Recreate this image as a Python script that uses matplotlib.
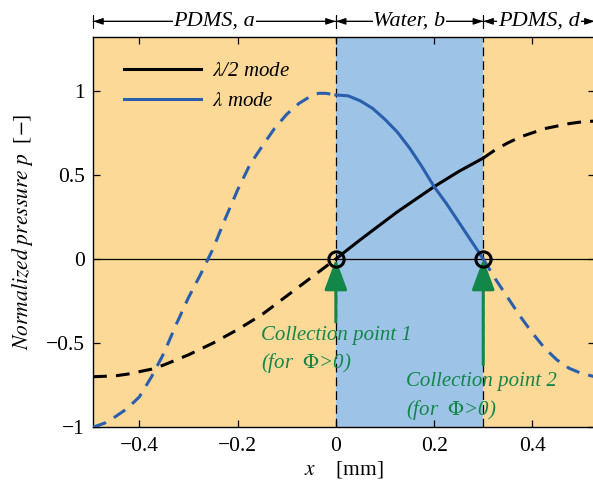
import matplotlib.pyplot as plt

plt.rcParams['font.family'] = ['Liberation Serif', 'DejaVu Serif']
plt.rcParams['mathtext.fontset'] = 'stix'

# layer boundaries [mm]
x_min, x_water, x_pdms_d, x_max = -0.494, 0.0, 0.3, 0.527

# lambda/2 mode (black)
half_a_x = [-0.494, -0.45, -0.425, -0.4, -0.375, -0.35, -0.3, -0.25, -0.2, -0.15, -0.1, -0.05, 0.0]
half_a_y = [-0.70, -0.695, -0.685, -0.67, -0.655, -0.63, -0.57, -0.50, -0.42, -0.33, -0.22, -0.11, 0.0]
half_b_x = [0.0, 0.025, 0.05, 0.075, 0.1, 0.125, 0.15, 0.175, 0.2, 0.225, 0.25, 0.275, 0.3]
half_b_y = [0.0, 0.058, 0.115, 0.17, 0.225, 0.28, 0.33, 0.38, 0.43, 0.475, 0.52, 0.56, 0.60]
half_d_x = [0.3, 0.325, 0.35, 0.375, 0.4, 0.425, 0.45, 0.475, 0.5, 0.527]
half_d_y = [0.60, 0.65, 0.69, 0.725, 0.75, 0.775, 0.79, 0.805, 0.815, 0.82]

# lambda mode (blue)
full_a_x = [-0.494, -0.47, -0.45, -0.425, -0.4, -0.375, -0.35, -0.325, -0.3, -0.275, -0.25,
            -0.225, -0.2, -0.175, -0.15, -0.125, -0.1, -0.075, -0.05, -0.035, -0.02, 0.0]
full_a_y = [-1.0, -0.975, -0.94, -0.89, -0.82, -0.70, -0.56, -0.39, -0.23, -0.09, 0.06,
            0.24, 0.41, 0.56, 0.67, 0.775, 0.86, 0.925, 0.97, 0.985, 0.985, 0.975]
full_b_x = [0.0, 0.025, 0.05, 0.075, 0.1, 0.125, 0.15, 0.175, 0.2, 0.225, 0.25, 0.275, 0.3]
full_b_y = [0.975, 0.97, 0.94, 0.895, 0.83, 0.755, 0.66, 0.55, 0.43, 0.33, 0.22, 0.11, 0.0]
full_d_x = [0.3, 0.325, 0.35, 0.375, 0.4, 0.425, 0.45, 0.475, 0.5, 0.527]
full_d_y = [0.0, -0.12, -0.23, -0.34, -0.44, -0.53, -0.60, -0.65, -0.68, -0.70]

orange = '#fdd998'
blue_bg = '#9dc3e6'
blue = '#2a5fad'
green = '#13864a'

fig = plt.figure(figsize=(5.93, 4.8), dpi=100)
ax = fig.add_axes([0.157, 0.110, 0.846, 0.813])

ax.axvspan(x_min, x_water, color=orange, lw=0, zorder=0)
ax.axvspan(x_water, x_pdms_d, color=blue_bg, lw=0, zorder=0)
ax.axvspan(x_pdms_d, x_max, color=orange, lw=0, zorder=0)

ax.axhline(0, color='black', lw=0.9, zorder=1)
for xv in (x_water, x_pdms_d):
    ax.axvline(xv, color='black', lw=0.9, ls=(0, (7, 4)), zorder=1)

lw = 2.2
dash = (0, (4.5, 3))
ax.plot(half_a_x, half_a_y, color='black', lw=lw, ls=dash, zorder=3)
ax.plot(half_b_x, half_b_y, color='black', lw=lw, zorder=3, label=r'$\lambda$/2 mode')
ax.plot(half_d_x, half_d_y, color='black', lw=lw, ls=dash, zorder=3)
ax.plot(full_a_x, full_a_y, color=blue, lw=lw, ls=dash, zorder=3)
ax.plot(full_b_x, full_b_y, color=blue, lw=lw, zorder=3, label=r'$\lambda$ mode')
ax.plot(full_d_x, full_d_y, color=blue, lw=lw, ls=dash, zorder=3)

ax.plot([x_water, x_pdms_d], [0, 0], 'o', ms=11, mfc='none', mec='black', mew=2.2, zorder=5)

# collection point arrows
for xv, y0 in ((x_water, -0.375), (x_pdms_d, -0.63)):
    ax.annotate('', xy=(xv, 0.0), xytext=(xv, y0),
                arrowprops=dict(arrowstyle='-|>,head_length=1.9,head_width=0.7',
                                color=green, lw=2.2, shrinkA=0, shrinkB=0), zorder=4)

tkw = dict(color=green, fontsize=15, style='italic', zorder=6)
ax.text(-0.153, -0.48, 'Collection point 1', va='baseline', **tkw)
ax.text(-0.153, -0.65, r'(for  $\Phi$>0)', va='baseline', **tkw)
ax.text(0.143, -0.755, 'Collection point 2', va='baseline', **tkw)
ax.text(0.143, -0.925, r'(for  $\Phi$>0)', va='baseline', **tkw)

leg = ax.legend(loc='upper left', bbox_to_anchor=(0.025, 0.985), frameon=False,
                handlelength=3.7, handletextpad=0.5, labelspacing=0.5,
                prop=dict(family='Liberation Serif', style='italic', size=15))

ax.set_xlim(x_min, x_max)
ax.set_ylim(-1.0, 1.32)
ax.set_xticks([-0.4, -0.2, 0, 0.2, 0.4])
ax.set_xticklabels(['\u22120.4', '\u22120.2', '0', '0.2', '0.4'])
ax.set_yticks([-1, -0.5, 0, 0.5, 1])
ax.set_yticklabels(['\u22121', '\u22120.5', '0', '0.5', '1'])
ax.tick_params(direction='in', top=True, right=True, labelsize=15.5, length=5, width=0.9)
ax.tick_params(axis='x', pad=7)
ax.tick_params(axis='y', pad=6)
for s in ax.spines.values():
    s.set_linewidth(1.0)

ax.set_xlabel(r'$x$    [mm]', fontsize=15.5, labelpad=2)
ax.set_ylabel(r'$Normalized\ pressure\ p$  [$-$]', fontsize=15.5, labelpad=8)

# layer span arrows above the axes
y_top = 1.0 + 0.04
trans = ax.get_xaxis_transform()
spans = [(x_min, x_water, 'PDMS, a'), (x_water, x_pdms_d, 'Water, b'), (x_pdms_d, x_max, 'PDMS, d')]
for x0, x1, label in spans:
    ax.annotate('', xy=(x0, y_top), xytext=(x1, y_top), xycoords=trans, textcoords=trans,
                arrowprops=dict(arrowstyle='|-|,widthA=0.45,widthB=0.45', color='black', lw=0.8,
                                shrinkA=0, shrinkB=0), annotation_clip=False)
    ax.annotate('', xy=(x0, y_top), xytext=(x1, y_top), xycoords=trans, textcoords=trans,
                arrowprops=dict(arrowstyle='<|-|>,head_length=0.6,head_width=0.2', color='black', lw=0.8,
                                shrinkA=0, shrinkB=0), annotation_clip=False)
    ax.text((x0 + x1) / 2, y_top, label, transform=trans, ha='center', va='center',
            fontsize=16, style='italic',
            bbox=dict(facecolor='white', edgecolor='none', pad=0.5), clip_on=False)

fig.savefig('out.png', dpi=100)
